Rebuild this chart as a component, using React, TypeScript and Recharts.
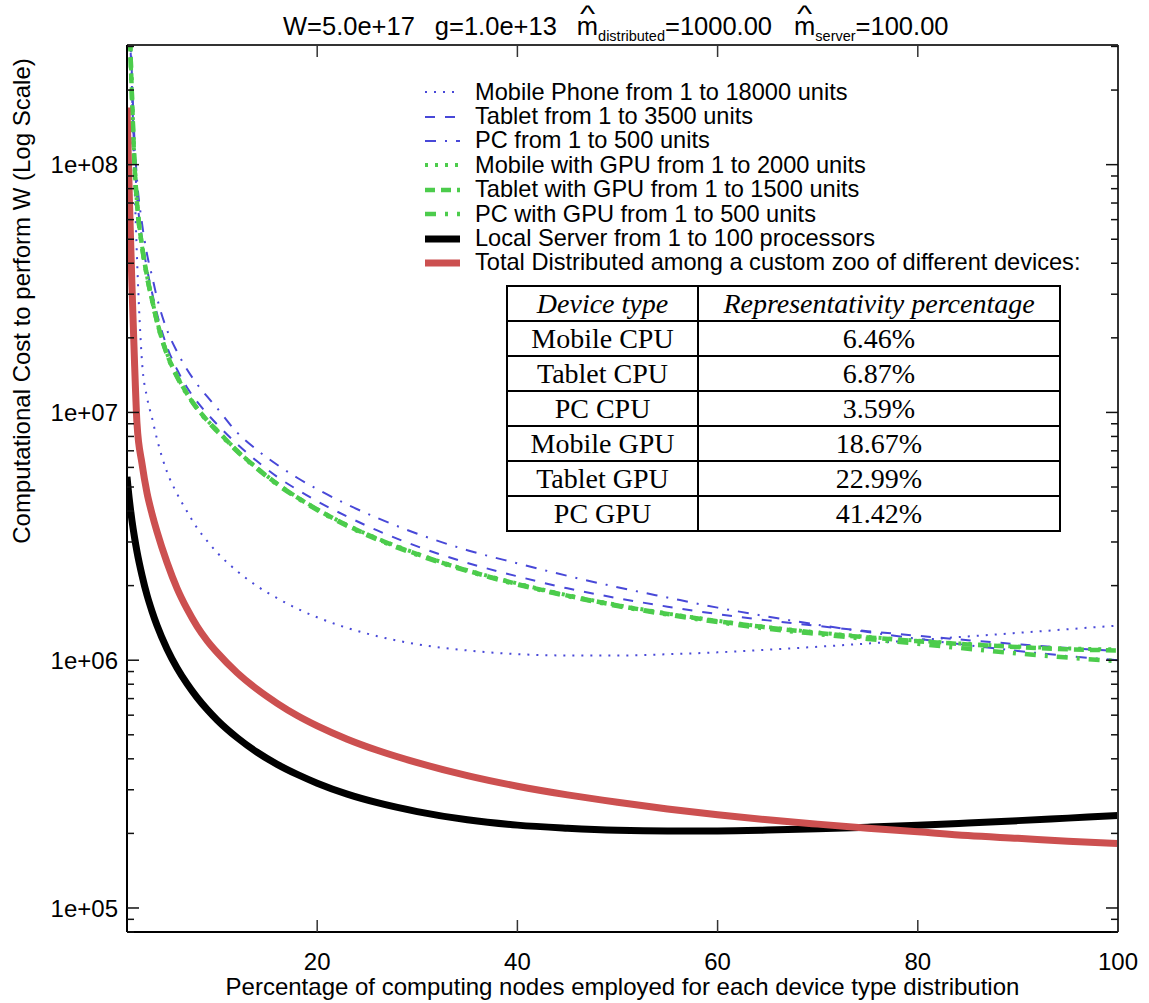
import React from 'react';
import { LineChart, Line, XAxis, YAxis, Legend } from 'recharts';

// x positions (percentage of computing nodes)
const xs = [1, 1.25, 1.5, 1.75, 2, 2.5, 3, 3.5, 4, 5, 6, 7, 8, 9, 10, 12, 14, 16, 18, 20, 23, 26, 30, 35, 40, 45, 50, 55, 60, 65, 70, 75, 80, 85, 90, 95, 100];

// computational cost (log scale)
const mobilePhone = [1.2e9, 4.5e8, 2.0e8, 8.5e7, 4.2e7, 1.6e7, 1.15e7, 9.5e6, 7.8e6, 5.75e6, 4.7e6, 3.98e6, 3.42e6, 3.03e6, 2.72e6, 2.29e6, 1.99e6, 1.78e6, 1.615e6, 1.49e6, 1.35e6, 1.25e6, 1.16e6, 1.095e6, 1.058e6, 1.045e6, 1.045e6, 1.057e6, 1.076e6, 1.102e6, 1.133e6, 1.168e6, 1.206e6, 1.247e6, 1.289e6, 1.334e6, 1.38e6];
const tablet = [1.25e9, 4.2e8, 1.95e8, 1.07e8, 7.5e7, 5.0e7, 3.8e7, 3.05e7, 2.5e7, 1.84e7, 1.49e7, 1.26e7, 1.105e7, 9.9e6, 8.95e6, 7.45e6, 6.35e6, 5.5e6, 4.88e6, 4.38e6, 3.8e6, 3.34e6, 2.88e6, 2.47e6, 2.18e6, 1.95e6, 1.78e6, 1.645e6, 1.535e6, 1.448e6, 1.375e6, 1.31e6, 1.255e6, 1.205e6, 1.16e6, 1.12e6, 1.09e6];
const pc = [1.4e9, 4.8e8, 2.25e8, 1.25e8, 8.7e7, 5.8e7, 4.35e7, 3.55e7, 2.9e7, 2.15e7, 1.76e7, 1.49e7, 1.3e7, 1.16e7, 1.04e7, 8.3e6, 7.05e6, 6.15e6, 5.45e6, 4.9e6, 4.25e6, 3.75e6, 3.24e6, 2.78e6, 2.46e6, 2.19e6, 1.97e6, 1.79e6, 1.63e6, 1.5e6, 1.39e6, 1.3e6, 1.22e6, 1.15e6, 1.09e6, 1.04e6, 1.0e6];
const mobileGpu = [1.2e9, 4.0e8, 1.85e8, 1.0e8, 7.0e7, 4.7e7, 3.55e7, 2.86e7, 2.34e7, 1.73e7, 1.4e7, 1.19e7, 1.04e7, 9.3e6, 8.46e6, 7.02e6, 5.96e6, 5.16e6, 4.55e6, 4.07e6, 3.51e6, 3.1e6, 2.69e6, 2.31e6, 2.04e6, 1.83e6, 1.67e6, 1.543e6, 1.442e6, 1.36e6, 1.294e6, 1.241e6, 1.198e6, 1.163e6, 1.135e6, 1.115e6, 1.105e6];
const tabletGpu = [1.2e9, 4.0e8, 1.85e8, 1.0e8, 7.0e7, 4.7e7, 3.55e7, 2.85e7, 2.33e7, 1.72e7, 1.4e7, 1.19e7, 1.04e7, 9.3e6, 8.45e6, 7.0e6, 5.95e6, 5.15e6, 4.54e6, 4.06e6, 3.5e6, 3.09e6, 2.68e6, 2.3e6, 2.03e6, 1.823e6, 1.663e6, 1.537e6, 1.436e6, 1.355e6, 1.289e6, 1.236e6, 1.193e6, 1.158e6, 1.13e6, 1.107e6, 1.095e6];
const pcGpu = [1.2e9, 4.0e8, 1.85e8, 1.0e8, 6.95e7, 4.68e7, 3.53e7, 2.84e7, 2.32e7, 1.71e7, 1.39e7, 1.185e7, 1.035e7, 9.25e6, 8.4e6, 6.97e6, 5.92e6, 5.12e6, 4.52e6, 4.04e6, 3.48e6, 3.07e6, 2.66e6, 2.29e6, 2.02e6, 1.815e6, 1.655e6, 1.528e6, 1.425e6, 1.34e6, 1.275e6, 1.218e6, 1.165e6, 1.112e6, 1.065e6, 1.025e6, 0.99e6];
const localServer = [5.5e6, 4.38e6, 3.65e6, 3.13e6, 2.74e6, 2.2e6, 1.83e6, 1.575e6, 1.38e6, 1.11e6, 9.3e5, 8.03e5, 7.07e5, 6.33e5, 5.74e5, 4.87e5, 4.25e5, 3.8e5, 3.46e5, 3.19e5, 2.88e5, 2.66e5, 2.45e5, 2.27e5, 2.16e5, 2.1e5, 2.06e5, 2.046e5, 2.047e5, 2.062e5, 2.087e5, 2.12e5, 2.158e5, 2.203e5, 2.252e5, 2.305e5, 2.36e5];
const totalDistributed = [1.7e8, 7.0e7, 3.2e7, 1.6e7, 9.0e6, 6.2e6, 4.73e6, 3.9e6, 3.3e6, 2.48e6, 1.95e6, 1.61e6, 1.37e6, 1.2e6, 1.075e6, 8.9e5, 7.63e5, 6.7e5, 5.98e5, 5.43e5, 4.8e5, 4.33e5, 3.86e5, 3.42e5, 3.1e5, 2.86e5, 2.67e5, 2.51e5, 2.38e5, 2.27e5, 2.18e5, 2.1e5, 2.03e5, 1.96e5, 1.91e5, 1.86e5, 1.82e5];

const xTicks = [20, 40, 60, 80, 100];
const yMajorTicks = [1e5, 1e6, 1e7, 1e8];
const yMinorSteps = [2, 3, 4, 5, 6, 7, 8, 9];

const deviceTypes = ['Mobile CPU', 'Tablet CPU', 'PC CPU', 'Mobile GPU', 'Tablet GPU', 'PC GPU'];
const percentages = ['6.46%', '6.87%', '3.59%', '18.67%', '22.99%', '41.42%'];

const BLUE = '#4848d8';
const GREEN = '#4ccc4c';
const RED = '#cc5050';
const SANS = '"Liberation Sans", Arial, Helvetica, sans-serif';
const SERIF = '"Liberation Serif", "Times New Roman", serif';

const Y_DOMAIN: [number, number] = [80000, 3.04e8];

const series = [
  { key: 'mobilePhone', name: 'Mobile Phone from 1 to 18000 units', color: BLUE, width: 2, dash: '2 7' },
  { key: 'tablet', name: 'Tablet from 1 to 3500 units', color: BLUE, width: 2, dash: '10 10' },
  { key: 'pc', name: 'PC from 1 to 500 units', color: BLUE, width: 2, dash: '11 9 2 9' },
  { key: 'mobileGpu', name: 'Mobile with GPU from 1 to 2000 units', color: GREEN, width: 4, dash: '3 7' },
  { key: 'tabletGpu', name: 'Tablet with GPU from 1 to 1500 units', color: GREEN, width: 4.5, dash: '10 6' },
  { key: 'pcGpu', name: 'PC with GPU from 1 to 500 units', color: GREEN, width: 4.5, dash: '11 9 3 9' },
  { key: 'localServer', name: 'Local Server from 1 to 100 processors', color: '#000', width: 7, dash: undefined },
  { key: 'totalDistributed', name: 'Total Distributed among a custom zoo of different devices:', color: RED, width: 7, dash: undefined },
];

const data = xs.map((x, i) => ({
  x,
  mobilePhone: mobilePhone[i],
  tablet: tablet[i],
  pc: pc[i],
  mobileGpu: mobileGpu[i],
  tabletGpu: tabletGpu[i],
  pcGpu: pcGpu[i],
  localServer: localServer[i],
  totalDistributed: totalDistributed[i],
}));

const yTicks: number[] = [];
[4, 5, 6, 7, 8].forEach((k) => {
  yMinorSteps.forEach((m) => {
    const v = m * Math.pow(10, k);
    if (v >= Y_DOMAIN[0] && v <= Y_DOMAIN[1]) yTicks.push(v);
  });
});
yMajorTicks.forEach((v) => yTicks.push(v));
yTicks.sort((a, b) => a - b);

const isMajor = (v: number) => Math.abs(Math.log10(v) - Math.round(Math.log10(v))) < 1e-6;
const fmtExp = (v: number) => {
  const e = Math.round(Math.log10(v));
  return `1e+${e < 10 ? '0' + e : e}`;
};

const LeftTick = (props: any) => {
  const { x, y, payload } = props;
  const major = isMajor(payload.value);
  return (
    <g>
      <line x1={x} x2={x + (major ? 12 : 7)} y1={y} y2={y} stroke="#111" strokeWidth={1.5} />
      {major && (
        <text x={x - 9} y={y} dy="0.36em" textAnchor="end" fontSize={24} fontFamily={SANS} fill="#000">
          {fmtExp(payload.value)}
        </text>
      )}
    </g>
  );
};

const RightTick = (props: any) => {
  const { x, y, payload } = props;
  const major = isMajor(payload.value);
  return <line x1={x} x2={x - (major ? 12 : 7)} y1={y} y2={y} stroke="#111" strokeWidth={1.5} />;
};

const BottomTick = (props: any) => {
  const { x, y, payload } = props;
  return (
    <g>
      <line x1={x} x2={x} y1={y} y2={y - 12} stroke="#333" strokeWidth={1.5} />
      <text x={x} y={y + 38} textAnchor="middle" fontSize={24} fontFamily={SANS} fill="#000">
        {payload.value}
      </text>
    </g>
  );
};

const TopTick = (props: any) => {
  const { x, y } = props;
  return <line x1={x} x2={x} y1={y} y2={y + 12} stroke="#333" strokeWidth={1.5} />;
};

const renderLegend = () => (
  <div style={{ fontFamily: SANS, fontSize: 23.6, color: '#000' }}>
    {series.map((s) => (
      <div key={s.key} style={{ display: 'flex', alignItems: 'center', height: 24.4, whiteSpace: 'nowrap' }}>
        <svg width={52} height={12} style={{ display: 'block' }}>
          <line x1={2} x2={37} y1={6} y2={6} stroke={s.color} strokeWidth={s.width} strokeDasharray={s.dash} />
        </svg>
        <span>{s.name}</span>
      </div>
    ))}
  </div>
);

const Hat = ({ children }: { children: React.ReactNode }) => (
  <span style={{ position: 'relative', display: 'inline-block' }}>
    {children}
    <span
      style={{
        position: 'absolute',
        left: 0,
        width: '100%',
        top: -11,
        textAlign: 'center',
        fontSize: 23,
        transform: 'scaleX(1.4)',
      }}
    >
      ^
    </span>
  </span>
);

const subStyle: React.CSSProperties = { fontSize: 14.5, verticalAlign: -6 };

export default function App() {
  const cellStyle: React.CSSProperties = {
    border: '2px solid #000',
    padding: 0,
    height: 33,
    textAlign: 'center',
    lineHeight: '33px',
  };
  return (
    <div style={{ position: 'absolute', left: 0, top: 0, width: 1149, height: 1003, background: '#fff' }}>
      <LineChart width={1149} height={1003} data={data} margin={{ top: 25, right: 11, bottom: 0, left: 67 }}>
        <XAxis
          dataKey="x"
          type="number"
          domain={[1, 100]}
          ticks={xTicks}
          interval={0}
          height={71}
          tickSize={0}
          tickMargin={0}
          tick={<BottomTick />}
          axisLine={{ stroke: '#000', strokeWidth: 2 }}
          allowDataOverflow
          label={{
            value: 'Percentage of computing nodes employed for each device type distribution',
            position: 'insideBottom',
            offset: 8,
            fill: '#000',
            fontSize: 24,
            fontFamily: SANS,
          }}
        />
        <XAxis
          xAxisId="top"
          orientation="top"
          dataKey="x"
          type="number"
          domain={[1, 100]}
          ticks={xTicks}
          interval={0}
          height={20}
          tickSize={0}
          tickMargin={0}
          tick={<TopTick />}
          axisLine={{ stroke: '#333', strokeWidth: 2 }}
          allowDataOverflow
        />
        <YAxis
          type="number"
          scale="log"
          domain={Y_DOMAIN}
          ticks={yTicks}
          interval={0}
          width={60}
          tickSize={0}
          tickMargin={0}
          tick={<LeftTick />}
          axisLine={{ stroke: '#000', strokeWidth: 2 }}
          allowDataOverflow
        />
        <YAxis
          yAxisId="right"
          orientation="right"
          type="number"
          scale="log"
          domain={Y_DOMAIN}
          ticks={yTicks}
          interval={0}
          width={20}
          tickSize={0}
          tickMargin={0}
          tick={<RightTick />}
          axisLine={{ stroke: '#333', strokeWidth: 2 }}
          allowDataOverflow
        />
        <Legend
          content={renderLegend}
          layout="vertical"
          verticalAlign="middle"
          align="center"
          wrapperStyle={{ left: 423, top: 80, width: 'auto', height: 'auto' }}
        />
        {series.map((s) => (
          <Line
            key={s.key}
            type="monotone"
            dataKey={s.key}
            name={s.name}
            stroke={s.color}
            strokeWidth={s.width}
            strokeDasharray={s.dash}
            dot={false}
            activeDot={false}
            isAnimationActive={false}
          />
        ))}
      </LineChart>

      <div
        style={{
          position: 'absolute',
          left: 283,
          top: 12,
          fontFamily: SANS,
          fontSize: 25.5,
          whiteSpace: 'pre',
          color: '#000',
        }}
      >
        <span>W=5.0e+17</span>
        <span style={{ marginLeft: 20 }}>g=1.0e+13</span>
        <span style={{ marginLeft: 20 }}>
          <Hat>m</Hat>
          <sub style={subStyle}>distributed</sub>=1000.00
        </span>
        <span style={{ marginLeft: 22 }}>
          <Hat>m</Hat>
          <sub style={subStyle}>server</sub>=100.00
        </span>
      </div>

      <div
        style={{
          position: 'absolute',
          left: 22,
          top: 301,
          transform: 'translate(-50%, -50%) rotate(-90deg)',
          fontFamily: SANS,
          fontSize: 24,
          whiteSpace: 'nowrap',
          color: '#000',
        }}
      >
        Computational Cost to perform W (Log Scale)
      </div>

      <table
        style={{
          position: 'absolute',
          left: 506,
          top: 285,
          borderCollapse: 'collapse',
          fontFamily: SERIF,
          fontSize: 28,
          background: '#fff',
        }}
      >
        <tbody>
          <tr>
            <td style={{ ...cellStyle, width: 189, fontStyle: 'italic' }}>Device type</td>
            <td style={{ ...cellStyle, width: 360, fontStyle: 'italic' }}>Representativity percentage</td>
          </tr>
          {deviceTypes.map((d, i) => (
            <tr key={d}>
              <td style={cellStyle}>{d}</td>
              <td style={cellStyle}>{percentages[i]}</td>
            </tr>
          ))}
        </tbody>
      </table>
    </div>
  );
}
